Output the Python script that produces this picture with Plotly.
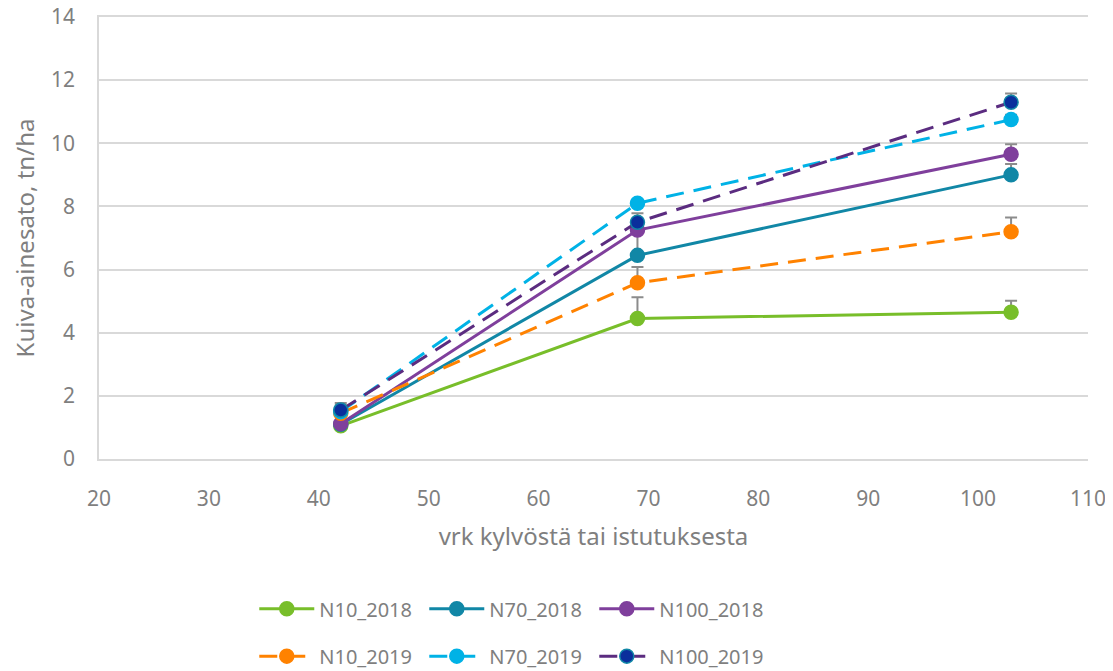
import plotly.graph_objects as go

# Data
days = [42, 69, 103]

n10_2018 = [1.05, 4.45, 4.65]
n70_2018 = [1.10, 6.45, 9.00]
n100_2018 = [1.12, 7.25, 9.65]
n10_2019 = [1.45, 5.58, 7.20]
n70_2019 = [1.50, 8.10, 10.75]
n100_2019 = [1.55, 7.50, 11.30]

# plus-only error bars
err_n10_2018 = [0.05, 0.67, 0.36]
err_n70_2018 = [0.05, 0.80, 0.34]
err_n100_2018 = [0.05, 0.30, 0.32]
err_n10_2019 = [0.20, 0.50, 0.45]
err_n70_2019 = [0.20, 0.10, 0.15]
err_n100_2019 = [0.22, 0.28, 0.28]

series = [
    ("N10_2018", n10_2018, err_n10_2018, "#78BE2A", "solid", "#78BE2A", "#78BE2A", "legend"),
    ("N70_2018", n70_2018, err_n70_2018, "#1187A6", "solid", "#1187A6", "#1187A6", "legend"),
    ("N100_2018", n100_2018, err_n100_2018, "#7F3F9C", "solid", "#7F3F9C", "#7F3F9C", "legend"),
    ("N10_2019", n10_2019, err_n10_2019, "#FF8200", "18px,10px", "#FF8200", "#FF8200", "legend2"),
    ("N70_2019", n70_2019, err_n70_2019, "#00B2E6", "18px,10px", "#00B2E6", "#00B2E6", "legend2"),
    ("N100_2019", n100_2019, err_n100_2019, "#5B2C80", "18px,10px", "#0A2F9C", "#1187A6", "legend2"),
]

text_col = "#7f7f7f"
fnt = "Segoe UI, Noto Sans, Open Sans, sans-serif"

fig = go.Figure()
for name, ys, errs, col, dash, mfill, mline, leg in series:
    fig.add_trace(go.Scatter(
        x=days, y=ys, name=name, mode="lines+markers",
        line=dict(color=col, width=3, dash=dash),
        marker=dict(size=14, color=mfill, line=dict(color=mline, width=1.5)),
        error_y=dict(type="data", array=errs, arrayminus=[0, 0, 0], symmetric=False,
                     color="#8c8c8c", thickness=2, width=6),
        legend=leg,
    ))

legend_common = dict(
    orientation="h", xanchor="left", x=0.157, yanchor="middle",
    font=dict(size=20, color=text_col, family=fnt),
    entrywidth=100, entrywidthmode="pixels", itemwidth=55,
    bgcolor="rgba(0,0,0,0)",
)

# page body adds an 8px offset, so the figure is a bit smaller
fig.update_layout(
    width=1105, height=663,
    margin=dict(l=91, r=25, t=9, b=212, autoexpand=False),
    plot_bgcolor="white", paper_bgcolor="white",
    font=dict(family=fnt, color=text_col, size=20),
    legend=dict(legend_common, y=-0.339),
    legend2=dict(legend_common, y=-0.446),
    xaxis=dict(
        range=[20, 110], dtick=10, showgrid=False, zeroline=False, automargin=False,
        showline=True, mirror=True, linecolor="#d9d9d9", linewidth=1.5,
        tickfont=dict(size=21, color=text_col), ticklabelstandoff=20,
        title=dict(text="vrk kylvöstä tai istutuksesta", font=dict(size=24, color=text_col), standoff=17),
    ),
    yaxis=dict(
        range=[0, 14], dtick=2, showgrid=True, gridcolor="#d9d9d9", gridwidth=1.5,
        zeroline=False, showline=True, linecolor="#d9d9d9", linewidth=1.5, automargin=False,
        tickfont=dict(size=21, color=text_col), ticklabelstandoff=18,
        ticklabeloverflow="allow",
        title=dict(text="Kuiva-ainesato, tn/ha", font=dict(size=24, color=text_col), standoff=18),
    ),
)

fig.write_html("out.html")
